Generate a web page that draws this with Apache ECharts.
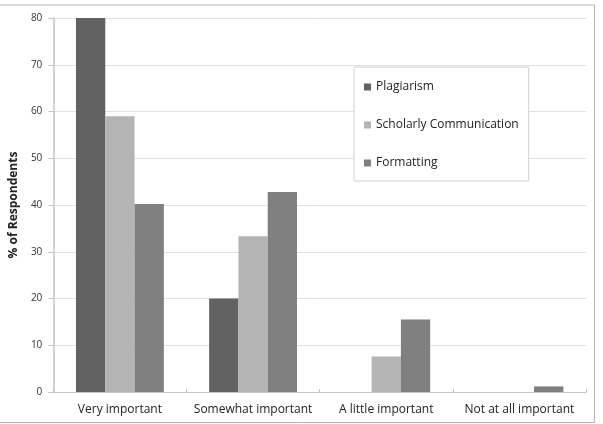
<!DOCTYPE html>
<html>
<head>
<meta charset="utf-8">
<script src="https://cdn.jsdelivr.net/npm/echarts@6/dist/echarts.min.js"></script>
<style>
  html, body { margin: 0; padding: 0; background: #fff; }
  #main { width: 603px; height: 424px; }
</style>
</head>
<body>
<div id="main"></div>
<script>
// answers per category, percent of respondents
const categories = ['Very important', 'Somewhat important', 'A little important', 'Not at all important']
const plagiarism = [80, 20, 0, 0]
const scholarly = [59, 33.3, 7.6, 0]
const formatting = [40.2, 42.8, 15.5, 1.2]
const yTicks = [0, 80, 10] // min, max, step

const chart = echarts.init(document.getElementById('main'), null, { renderer: 'canvas' })

const fontFam = '"Open Sans", "Noto Sans", sans-serif'

function barSeries(name, data, fill) {
  return {
    name: name,
    type: 'bar',
    data: data,
    barGap: 0,
    barCategoryGap: '34%',
    itemStyle: { color: fill }
  }
}

chart.setOption({
  animation: false,
  backgroundColor: '#fff',
  textStyle: { fontFamily: fontFam },
  graphic: [
    {
      type: 'rect',
      shape: { x: -2, y: 5, width: 596.5, height: 417.5 },
      style: { fill: 'none', stroke: '#b4b4b4', lineWidth: 1 },
      z: -1
    }
  ],
  grid: {
    left: 50,
    right: 17,
    top: 18,
    bottom: 32,
    containLabel: false
  },
  legend: {
    orient: 'vertical',
    left: 354,
    top: 67,
    padding: [14, 10, 12, 10],
    itemGap: 26,
    itemWidth: 7,
    itemHeight: 7,
    icon: 'rect',
    borderColor: '#d0d0d0',
    borderWidth: 1,
    backgroundColor: '#fff',
    textStyle: { fontSize: 12, color: '#222', fontFamily: fontFam },
    data: ['Plagiarism', 'Scholarly Communication', 'Formatting']
  },
  xAxis: {
    type: 'category',
    data: categories,
    axisLine: { lineStyle: { color: '#c4c4c4' } },
    axisTick: { show: true, inside: true, length: 3, lineStyle: { color: '#c4c4c4' } },
    axisLabel: { fontSize: 12, color: '#222', margin: 12, interval: 0 }
  },
  yAxis: {
    type: 'value',
    min: yTicks[0],
    max: yTicks[1],
    interval: yTicks[2],
    name: '% of Respondents',
    nameLocation: 'middle',
    nameRotate: 90,
    nameGap: 29,
    nameTextStyle: { fontSize: 12, fontWeight: 'bold', color: '#222' },
    axisLine: { show: true, lineStyle: { color: '#c4c4c4', width: 1.5 } },
    axisTick: { show: true, length: 5, lineStyle: { color: '#c4c4c4' } },
    axisLabel: { fontSize: 10, color: '#333', margin: 11 },
    splitLine: { lineStyle: { color: '#e2e2e2' } }
  },
  series: [
    barSeries('Plagiarism', plagiarism, '#626262'),
    barSeries('Scholarly Communication', scholarly, '#b4b4b4'),
    barSeries('Formatting', formatting, '#808080')
  ]
})
</script>
</body>
</html>
